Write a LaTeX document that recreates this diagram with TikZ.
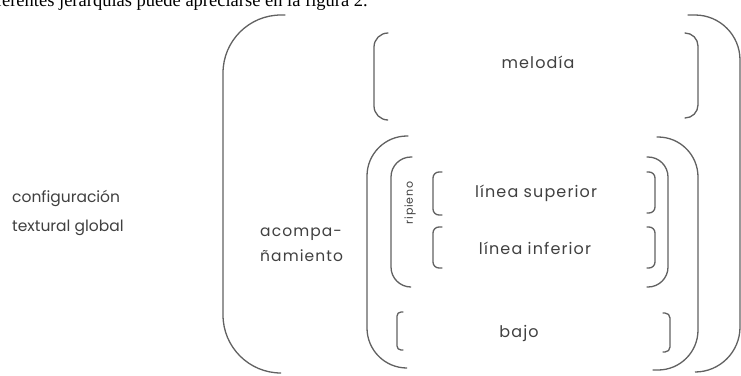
\documentclass[tikz,border=0pt]{standalone}
\usepackage{fontspec}
\setmainfont{Poppins}
\newfontfamily\serifed{Liberation Serif}
\newfontfamily\spaced[LetterSpace=7]{Poppins}
\begin{document}
\begin{tikzpicture}[x=1pt,y=-1pt,
  brk/.style={draw=black!62, line width=1.3pt, line cap=round},
  lbl/.style={text=black!75, font=\spaced\fontsize{16}{18}\selectfont, inner sep=0pt}]
\useasboundingbox (0,0) rectangle (741,375);
\begin{scope}
\clip (0,0) rectangle (741,375);
\node[anchor=base east, font=\serifed\fontsize{18.5}{20}\selectfont, inner sep=0pt] (prose) at (368,6.5) {diferentes jerarquías puede apreciarse en la figura 2.};
% outer brackets
\draw[brk, rounded corners=58pt] (285,15) -| (223,190) |- (280,373);
\draw[brk, rounded corners=45pt] (688,15) -| (740,190) |- (697,372);
% melodia
\draw[brk, rounded corners=14pt] (388,33) -| (374,75) |- (387,120);
\draw[brk, rounded corners=13pt] (685,33) -| (698,75) |- (685,118);
% acompanamiento
\draw[brk, rounded corners=40pt] (408,136) -| (367,250) |- (405,368);
\draw[brk, rounded corners=40pt] (657,137) -| (698,250) |- (653,370);
% ripieno
\draw[brk, rounded corners=20pt] (412,157) -| (391,220) |- (410,287);
\draw[brk, rounded corners=20pt] (647,157) -| (668,220) |- (647,287);
% linea superior
\draw[brk, rounded corners=6pt] (442,172) -| (433,190) |- (442,215);
\draw[brk, rounded corners=6pt] (647,172) -| (655,190) |- (647,213);
% linea inferior
\draw[brk, rounded corners=6pt] (442,227) -| (433,245) |- (442,268);
\draw[brk, rounded corners=6pt] (647,227) -| (655,245) |- (647,268);
% bajo
\draw[brk, rounded corners=4pt] (403,312) -| (397,330) |- (403,350);
\draw[brk, rounded corners=5pt] (663,313) -| (670,330) |- (663,352);
\end{scope}
\node[lbl] (mel) at (538,62) {melodía};
\node[lbl] (sup) at (536,193) {línea superior};
\node[lbl] (inf) at (535,248) {línea inferior};
\node[lbl] (baj) at (519,333) {bajo};
\node[lbl, rotate=90, font=\spaced\fontsize{11}{13}\selectfont] (rip) at (410,203) {ripieno};
\node[lbl, anchor=west, align=left, font=\spaced\fontsize{15.5}{25}\selectfont] (aco) at (260,245) {acompa-\\ñamiento};
\node[lbl, anchor=west, align=left, font=\fontsize{15.5}{29}\selectfont] (cfg) at (12,213) {configuración\\textural global};
\end{tikzpicture}
\end{document}
